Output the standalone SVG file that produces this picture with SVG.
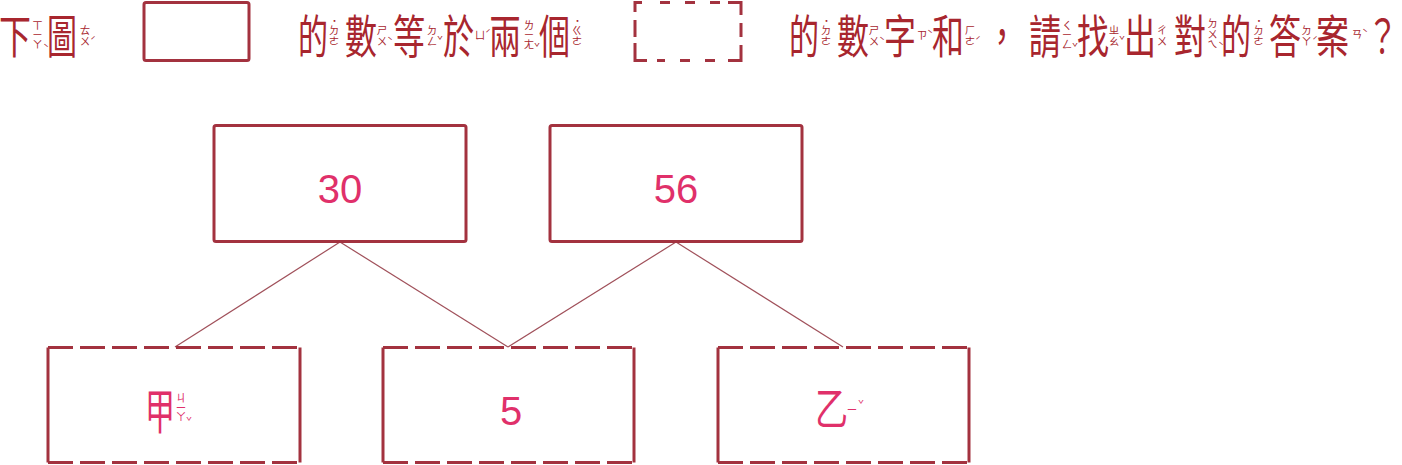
<svg xmlns="http://www.w3.org/2000/svg" width="1402" height="465" viewBox="0 0 1402 465">
<style>
.t{font-family:"Noto Sans CJK TC","Noto Sans CJK SC",sans-serif;font-size:46px;fill:#a8262e}
.zv{font-family:"Noto Sans CJK TC",sans-serif;font-size:10.5px;fill:#a8262e;writing-mode:vertical-rl}
.tn{font-family:"Noto Sans CJK TC",sans-serif;font-size:10px;fill:#a8262e}
.zvn{font-family:"Noto Sans CJK TC",sans-serif;font-size:11px;fill:#e0306a;writing-mode:vertical-rl}
.tnn{font-family:"Noto Sans CJK TC",sans-serif;font-size:10px;fill:#e0306a}
.box{fill:#fff;stroke:#a3323f;stroke-width:3;stroke-linejoin:round}
.dash{fill:none;stroke:#a3323f;stroke-width:3;stroke-dasharray:25 7}
.solid{fill:none;stroke:#a3323f;stroke-width:3}
.num{font-family:"Liberation Sans",sans-serif;font-size:40px;fill:#e0306a;text-anchor:middle}
.cj{font-family:"Noto Sans CJK TC",sans-serif;fill:#e0306a}
.edge{stroke:#a0505a;stroke-width:1.2;fill:none}
</style>
<rect width="1402" height="465" fill="#fff"/>

<g id="title">
<text class="t" x="-1" y="53" textLength="32" lengthAdjust="spacingAndGlyphs">下</text>
<text class="zv" x="37.5" y="20">ㄒㄧㄚ</text><text class="tn" x="43" y="52">ˋ</text>
<text class="t" x="47" y="53" textLength="30" lengthAdjust="spacingAndGlyphs">圖</text>
<text class="zv" x="85" y="25">ㄊㄨ</text><text class="tn" x="90" y="45">ˊ</text>

<rect class="box" x="144" y="2.5" width="105" height="58" rx="2"/>

<text class="t" x="298" y="53" textLength="30" lengthAdjust="spacingAndGlyphs">的</text>
<text class="tn" x="332" y="25">˙</text><text class="zv" x="334" y="25">ㄉㄜ</text>
<text class="t" x="345" y="53" textLength="32" lengthAdjust="spacingAndGlyphs">數</text>
<text class="zv" x="382" y="25">ㄕㄨ</text><text class="tn" x="387" y="45">ˋ</text>
<text class="t" x="393" y="53" textLength="32" lengthAdjust="spacingAndGlyphs">等</text>
<text class="zv" x="432" y="25">ㄉㄥ</text><text class="tn" x="437" y="45">ˇ</text>
<text class="t" x="443" y="53" textLength="31" lengthAdjust="spacingAndGlyphs">於</text>
<text class="zv" x="480" y="30">ㄩ</text><text class="tn" x="485" y="38">ˊ</text>
<text class="t" x="489" y="53" textLength="32" lengthAdjust="spacingAndGlyphs">兩</text>
<text class="zv" x="529" y="20">ㄌㄧㄤ</text><text class="tn" x="534" y="52">ˇ</text>
<text class="t" x="539" y="53" textLength="31" lengthAdjust="spacingAndGlyphs">個</text>
<text class="tn" x="575" y="25">˙</text><text class="zv" x="577" y="25">ㄍㄜ</text>

<path class="solid" d="M635,12 V2.5 H642 M660,2.5 H670 M685,2.5 H695 M710,2.5 H720 M728,2.5 H741 V15 M741,23 V37 M741,45 V60.5 H728 M715,60.5 H705 M690,60.5 H680 M665,60.5 H657 M647,60.5 H635 V43 M635,37 V20"/>

<text class="t" x="789" y="53" textLength="30" lengthAdjust="spacingAndGlyphs">的</text>
<text class="tn" x="824" y="25">˙</text><text class="zv" x="826" y="25">ㄉㄜ</text>
<text class="t" x="837" y="53" textLength="32" lengthAdjust="spacingAndGlyphs">數</text>
<text class="zv" x="874" y="25">ㄕㄨ</text><text class="tn" x="879" y="45">ˋ</text>
<text class="t" x="884" y="53" textLength="32" lengthAdjust="spacingAndGlyphs">字</text>
<text class="zv" x="922" y="30">ㄗ</text><text class="tn" x="927" y="38">ˋ</text>
<text class="t" x="932" y="53" textLength="32" lengthAdjust="spacingAndGlyphs">和</text>
<text class="zv" x="970" y="25">ㄏㄜ</text><text class="tn" x="975" y="45">ˊ</text>
<text class="t" x="986" y="53" textLength="32" lengthAdjust="spacingAndGlyphs">，</text>
<text class="t" x="1029" y="53" textLength="32" lengthAdjust="spacingAndGlyphs">請</text>
<text class="zv" x="1067" y="20">ㄑㄧㄥ</text><text class="tn" x="1072" y="52">ˇ</text>
<text class="t" x="1077" y="53" textLength="32" lengthAdjust="spacingAndGlyphs">找</text>
<text class="zv" x="1114" y="25">ㄓㄠ</text><text class="tn" x="1119" y="45">ˇ</text>
<text class="t" x="1124" y="53" textLength="32" lengthAdjust="spacingAndGlyphs">出</text>
<text class="zv" x="1162" y="25">ㄔㄨ</text>
<text class="t" x="1174" y="53" textLength="32" lengthAdjust="spacingAndGlyphs">對</text>
<text class="zv" x="1212.5" y="18">ㄉㄨㄟ</text><text class="tn" x="1218" y="50">ˋ</text>
<text class="t" x="1221" y="53" textLength="30" lengthAdjust="spacingAndGlyphs">的</text>
<text class="tn" x="1256.5" y="25">˙</text><text class="zv" x="1258.5" y="25">ㄉㄜ</text>
<text class="t" x="1269" y="53" textLength="32" lengthAdjust="spacingAndGlyphs">答</text>
<text class="zv" x="1306.5" y="25">ㄉㄚ</text><text class="tn" x="1312" y="45">ˊ</text>
<text class="t" x="1316" y="53" textLength="33" lengthAdjust="spacingAndGlyphs">案</text>
<text class="zv" x="1357" y="29">ㄢ</text><text class="tn" x="1362" y="37">ˋ</text>
<text class="t" x="1367" y="53" textLength="31" lengthAdjust="spacingAndGlyphs">？</text>
</g>

<g id="connectors">
<line class="edge" x1="340" y1="242" x2="175" y2="347"/>
<line class="edge" x1="340" y1="242" x2="508" y2="347"/>
<line class="edge" x1="676" y1="242" x2="508" y2="347"/>
<line class="edge" x1="676" y1="242" x2="843" y2="347"/>
</g>

<g id="node-30">
<rect class="box" x="214" y="125.5" width="252" height="116" rx="2"/>
<text class="num" x="340" y="203">30</text>
</g>
<g id="node-56">
<rect class="box" x="550" y="125.5" width="252" height="116" rx="2"/>
<text class="num" x="676" y="203">56</text>
</g>

<g id="node-jia">
<path class="dash" d="M48,347.5 H300 M48,462.5 H300"/>
<path class="solid" d="M48,347.5 V462.5 M300,347.5 V462.5"/>
<text class="cj" x="145" y="429" font-size="48" textLength="30" lengthAdjust="spacingAndGlyphs">甲</text>
<text class="zvn" x="181" y="392">ㄐㄧㄚ</text><text class="tnn" x="186" y="426">ˇ</text>
</g>
<g id="node-5">
<path class="dash" d="M383,347.5 H634 M383,462.5 H634"/>
<path class="solid" d="M383,347.5 V462.5 M634,347.5 V462.5"/>
<text class="num" x="511" y="425">5</text>
</g>
<g id="node-yi">
<path class="dash" d="M718,347.5 H969 M718,462.5 H969"/>
<path class="solid" d="M718,347.5 V462.5 M969,347.5 V462.5"/>
<text class="cj" x="815" y="425" font-size="44" textLength="33" lengthAdjust="spacingAndGlyphs">乙</text>
<text class="zvn" x="852" y="405">ㄧ</text><text class="tnn" x="858" y="409">ˇ</text>
</g>
</svg>
